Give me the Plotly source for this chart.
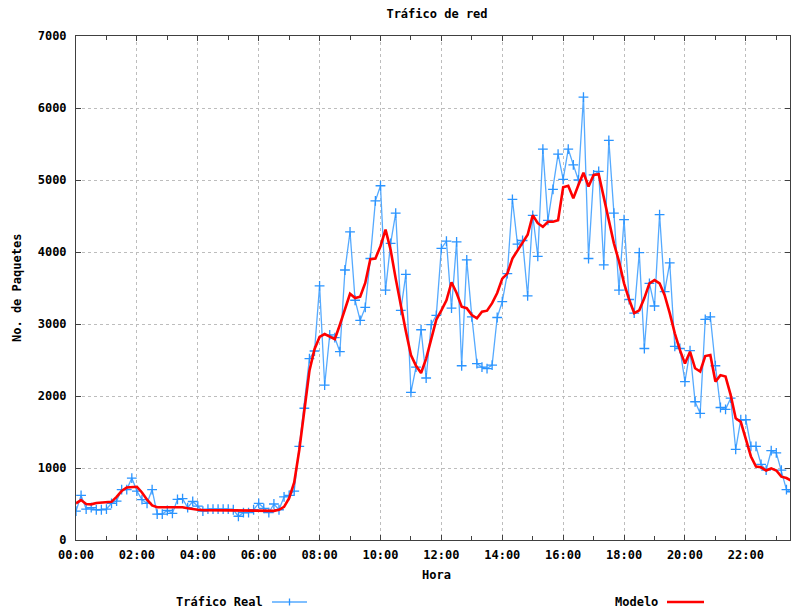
import plotly.graph_objects as go
import pandas as pd

# ---- data (10-minute samples from 00:00 to 23:30) ----
trafico_real = [
    400, 620, 430, 450, 420, 420, 430, 510, 540, 700, 700, 860,
    680, 560, 510, 700, 360, 360, 410, 370, 565, 575, 450, 535,
    470, 400, 430, 430, 430, 430, 430, 420, 330, 380, 380, 420,
    510, 440, 380, 500, 420, 600, 620, 680, 1300, 1830, 2520, 2625,
    3530, 2150, 2850, 2810, 2615, 3750, 4280, 3330, 3050, 3230, 3910, 4710,
    4920, 3470, 4120, 4540, 3190, 3690, 2050, 2400, 2920, 2250, 2990, 3120,
    4050, 4150, 3220, 4140, 2420, 3890, 3100, 2450, 2400, 2380, 2430, 3090,
    3310, 3700, 4730, 4110, 4160, 3390, 4510, 3940, 5430, 4440, 4870, 5360,
    5010, 5430, 5210, 5000, 6150, 3910, 5070, 5120, 3820, 5550, 4540, 3470,
    4450, 3340, 3150, 3990, 2660, 3565, 3250, 4520, 3450, 3850, 2690, 2660,
    2200, 2630, 1920, 1760, 3065, 3100, 2420, 1840, 1815, 1970, 1260, 1670,
    1670, 1300, 1300, 1050, 970, 1240, 1210, 970, 700, 670,
]
modelo = [
    510, 555, 500, 495, 515, 518, 518, 530, 600, 680, 730, 740,
    740, 660, 560, 480, 455, 455, 455, 455, 455, 455, 440, 425,
    420, 415, 415, 415, 415, 410, 410, 405, 405, 405, 405, 405,
    405, 405, 405, 405, 420, 460, 580, 800, 1250, 1800, 2350, 2650,
    2820, 2860, 2820, 2790, 2990, 3200, 3420, 3360, 3380, 3570, 3900, 3910,
    4080, 4310, 4030, 3630, 3250, 2900, 2570, 2420, 2320, 2520, 2790, 3060,
    3190, 3330, 3580, 3430, 3240, 3220, 3125, 3080, 3170, 3185, 3290, 3430,
    3630, 3700, 3910, 4030, 4130, 4240, 4510, 4400, 4350, 4420, 4420, 4440,
    4900, 4920, 4745, 4930, 5100, 4910, 5070, 5080, 4770, 4440, 4120, 3870,
    3565, 3340, 3150, 3190, 3360, 3565, 3610, 3565, 3400, 3150, 2870, 2640,
    2450, 2615, 2385, 2340, 2555, 2570, 2200, 2290, 2270, 2015, 1690, 1640,
    1410, 1160, 1020, 1010, 965, 995, 965, 880, 860, 820,
]
horas = pd.date_range("2000-01-01 00:00", periods=len(trafico_real), freq="10min")
x_ticks = ["00:00", "02:00", "04:00", "06:00", "08:00", "10:00", "12:00",
           "14:00", "16:00", "18:00", "20:00", "22:00"]
y_ticks = [0, 1000, 2000, 3000, 4000, 5000, 6000, 7000]

FONT = "DejaVu Sans Mono"
BLUE = "#2a94ff"
BLUE_LINE = "#55aaff"
RED = "#ff0000"
TXT = dict(family=FONT, size=12, color="black", weight="bold")

fig = go.Figure()
fig.add_trace(go.Scatter(
    x=horas, y=trafico_real, mode="lines+markers", name="Tráfico Real",
    line=dict(color=BLUE_LINE, width=1.3),
    marker=dict(symbol="cross-thin", size=7, line=dict(color=BLUE, width=1.3)),
))
fig.add_trace(go.Scatter(
    x=horas, y=modelo, mode="lines", name="Modelo",
    line=dict(color=RED, width=2.6),
))

L, T, B, R = 76, 36, 73, 1
W, H = 791, 613
pw, ph = W - L - R, H - T - B

def px(xp):
    return (xp - L) / pw

def py(yp):
    return (H - B - yp) / ph

tick_vals = [pd.Timestamp("2000-01-01 " + t) for t in x_ticks]

axis_common = dict(
    showline=True, linecolor="#404040", linewidth=1, mirror="ticks",
    ticks="inside", ticklen=5, tickcolor="#404040",
    showgrid=True, gridcolor="#bdbdbd", griddash="dot", gridwidth=1,
    zeroline=False,
    tickfont=TXT,
)

fig.update_xaxes(
    **axis_common,
    range=[pd.Timestamp("2000-01-01 00:00"), pd.Timestamp("2000-01-01 23:27")],
    tickvals=tick_vals, ticktext=x_ticks,
    minor=dict(ticks="inside", ticklen=4, dtick=3600000, tickcolor="#404040",
               showgrid=False),
    ticklabelstandoff=4,
)
fig.update_yaxes(
    **axis_common,
    range=[0, 7000], tickvals=y_ticks, ticktext=[str(v) for v in y_ticks],
    ticklabelstandoff=6,
)

def note(text, x, y, xanchor="center", angle=0):
    return dict(text=text, x=px(x), y=py(y), xref="paper", yref="paper",
                xanchor=xanchor, yanchor="middle", textangle=angle,
                showarrow=False, font=TXT)

annotations = [
    note("Hora", 436, 575),
    note("No. de Paquetes", 17, 288, angle=-90),
    note("Tráfico Real", 265, 602, xanchor="right"),
    note("Modelo", 660, 602, xanchor="right"),
]
shapes = [
    dict(type="line", xref="paper", yref="paper", x0=px(272), x1=px(307),
         y0=py(602), y1=py(602), line=dict(color=BLUE_LINE, width=1.5)),
    dict(type="line", xref="paper", yref="paper", x0=px(289.5), x1=px(289.5),
         y0=py(598.5), y1=py(605.5), line=dict(color=BLUE, width=1.3)),
    dict(type="line", xref="paper", yref="paper", x0=px(667), x1=px(704),
         y0=py(602), y1=py(602), line=dict(color=RED, width=2.6)),
]

fig.update_layout(
    width=W, height=H,
    margin=dict(l=L, r=R, t=T, b=B),
    paper_bgcolor="white", plot_bgcolor="white",
    showlegend=False,
    title=dict(text="Tráfico de red", x=437 / W, xanchor="center",
               y=1 - 14 / H, yanchor="middle", font=TXT),
    annotations=annotations, shapes=shapes,
)

fig.write_html(
    "out.html",
    config={"displayModeBar": False},
    post_script="document.body.style.margin='0';document.body.style.overflow='hidden';",
)
